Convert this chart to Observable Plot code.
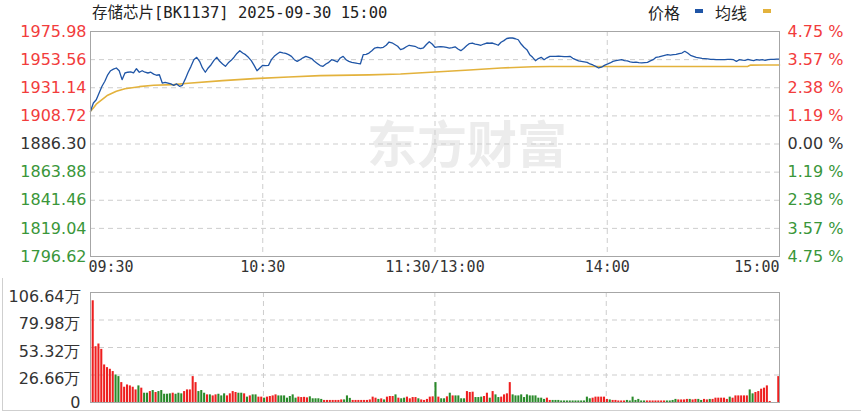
<!DOCTYPE html>
<html><head><meta charset="utf-8">
<script src="https://cdn.jsdelivr.net/npm/d3@7"></script>
<script src="https://cdn.jsdelivr.net/npm/@observablehq/plot@0.6"></script>
<style>
body{margin:0;background:#fff;}
#wrap{position:relative;width:861px;height:413px;overflow:hidden;background:#fff;}
#price,#vol{position:absolute;left:0;}
#price{top:0px}
#vol{top:280px}
.t{position:absolute;top:0;line-height:26px;white-space:pre;color:#222;}
.title{left:92px;font:15.5px "DejaVu Sans Mono","Noto Sans CJK SC",monospace;}
.lg{font:16px "Noto Sans CJK SC",sans-serif;}
.sw{position:absolute;top:9px;width:8px;height:4px;}
.box{position:absolute;left:2px;top:278px;width:880px;height:132px;border-left:1px solid #cfcfcf;border-bottom:1px solid #cfcfcf;}
</style></head>
<body>
<div id="wrap">
  <div class="box"></div>
  <div id="price"></div>
  <div id="vol"></div>
  <div class="t title" id="title"></div>
  <div class="t lg" style="left:648px" id="lg1"></div>
  <div class="sw" style="left:695px;background:#1f55a6"></div>
  <div class="t lg" style="left:715px" id="lg2"></div>
  <div class="sw" style="left:763px;background:#e3b23c"></div>
</div>
<script>
const titleText = "存储芯片[BK1137] 2025-09-30 15:00";
const legendNames = ["价格", "均线"];
const watermark = "东方财富";

const prevClose = 1886.30;
const priceTicks = [1975.98,1953.56,1931.14,1908.72,1886.30,1863.88,1841.46,1819.04,1796.62];
const pctLabels = ["4.75 %","3.57 %","2.38 %","1.19 %","0.00 %","1.19 %","2.38 %","3.57 %","4.75 %"];
const timeTicks = [0,60,120,180,240];
const timeLabels = ["09:30","10:30","11:30/13:00","14:00","15:00"];
const volTicks = [106.64,79.98,53.32,26.66,0];
const volLabels = ["106.64万","79.98万","53.32万","26.66万","0"];

// price per trading minute (0 = 09:30, 240 = 15:00)
const priceValues = [
1912.4,1919.0,1921.6,1927.0,1932.3,1936.3,1941.5,1944.7,1946.0,1946.9,
1944.7,1937.6,1942.9,1943.5,1943.8,1943.0,1946.3,1943.5,1944.7,1943.5,
1942.9,1943.5,1942.0,1941.1,1941.5,1934.9,1935.5,1934.9,1934.2,1933.1,
1934.2,1932.3,1933.1,1938.0,1943.5,1948.2,1953.5,1955.4,1952.2,1946.9,
1943.5,1946.9,1949.5,1953.0,1955.4,1952.2,1950.1,1948.2,1951.0,1953.0,
1955.5,1958.5,1960.7,1958.8,1957.5,1955.4,1952.7,1949.0,1944.7,1946.9,
1949.0,1948.8,1949.0,1953.5,1956.2,1958.0,1959.6,1959.0,1958.5,1957.5,
1956.2,1953.5,1952.2,1953.5,1955.0,1956.2,1955.4,1954.4,1952.2,1950.5,
1948.8,1948.2,1950.1,1951.4,1953.5,1952.7,1951.8,1954.9,1956.2,1953.5,
1952.2,1951.4,1951.0,1950.5,1950.1,1957.5,1957.8,1958.8,1960.7,1962.8,
1963.4,1963.0,1963.4,1965.0,1967.6,1967.0,1965.6,1964.2,1961.5,1962.3,
1963.8,1965.0,1964.6,1964.2,1963.0,1962.3,1963.0,1965.6,1967.8,1966.0,
1963.4,1963.8,1964.0,1963.8,1963.4,1962.8,1963.2,1963.8,1962.0,1960.7,
1962.5,1964.6,1966.4,1966.8,1966.0,1965.6,1965.0,1966.0,1966.8,1966.6,
1966.8,1966.0,1965.0,1967.4,1968.7,1970.4,1970.8,1970.8,1970.2,1969.4,
1966.0,1963.4,1961.5,1957.5,1955.4,1952.7,1954.4,1955.4,1953.5,1955.0,
1956.2,1956.2,1956.2,1956.4,1956.2,1956.0,1956.0,1956.2,1954.6,1953.5,
1952.5,1952.2,1951.8,1951.4,1950.1,1949.3,1948.2,1946.9,1947.5,1949.0,
1950.0,1950.9,1952.2,1952.7,1953.2,1953.5,1952.7,1952.5,1951.8,1951.4,
1951.6,1951.2,1951.0,1951.2,1951.4,1952.5,1953.5,1955.4,1955.8,1956.4,
1957.0,1957.5,1957.2,1957.5,1957.8,1958.4,1958.8,1960.2,1958.8,1957.0,
1956.2,1955.4,1955.0,1954.6,1954.4,1954.2,1953.8,1953.8,1953.5,1953.5,
1953.5,1953.5,1953.8,1953.8,1953.5,1952.2,1953.5,1953.2,1953.0,1953.8,
1953.2,1952.8,1953.5,1953.2,1953.5,1953.0,1953.5,1953.8,1953.8,1954.0,
1954.0];

const avgMinutes = [0,1,2,4,6,9,12,17,22,29,34,46,57,69,80,97,108,120,132,143,154,160,229,230,240];
const avgValues = [1912.4,1915.0,1918.0,1921.6,1925.2,1928.3,1930.4,1932.0,1933.1,1933.6,1934.7,1936.8,1938.4,1939.7,1940.8,1941.4,1942.1,1943.7,1945.3,1946.9,1947.9,1948.1,1948.2,1949.2,1949.3];

// volume (万) per minute and direction (1 = up/red, 0 = down/green)
const volValues = [
98.6,54.1,56.7,51.5,36.4,33.8,32.2,30.0,26.7,25.1,
19.3,14.8,17.0,16.1,14.8,12.2,16.1,13.9,9.0,9.0,
10.6,11.6,9.7,10.6,11.6,8.0,8.0,8.4,9.0,8.0,
9.0,8.4,10.6,12.2,12.2,25.1,19.3,10.6,11.6,9.0,
7.4,7.4,6.4,7.4,8.0,6.4,8.4,6.4,8.4,10.6,
9.7,9.0,9.0,8.4,5.2,6.4,7.4,7.4,5.2,5.2,
4.2,5.2,5.8,6.4,7.4,6.4,6.4,6.4,4.2,5.8,
7.4,4.2,5.2,4.8,5.0,4.5,5.5,3.6,3.6,3.6,
3.0,2.0,2.0,2.0,2.0,2.0,2.0,2.5,2.5,6.4,
4.0,2.0,2.0,2.0,2.0,2.0,2.0,2.5,5.2,4.2,
3.0,3.5,2.5,5.2,5.8,5.8,7.4,4.2,3.6,4.2,
5.2,3.6,4.8,4.8,3.6,2.5,2.0,3.0,5.2,5.5,
19.3,5.2,3.6,3.6,5.5,9.0,6.4,6.4,6.4,3.6,
3.6,10.6,9.7,10.0,4.8,4.8,5.2,5.8,9.0,4.2,
10.6,7.4,4.8,5.2,7.4,8.4,19.3,7.4,6.4,6.4,
7.4,4.8,7.4,6.4,6.4,6.4,4.2,4.2,3.0,4.2,
2.0,2.0,2.0,2.0,1.5,1.5,1.5,1.5,1.5,1.5,
1.5,1.5,1.5,5.2,3.6,4.2,5.2,5.2,5.2,5.2,
3.0,2.5,2.0,2.0,1.5,1.5,1.5,2.0,1.5,5.2,
2.0,3.0,1.5,1.5,1.5,1.5,1.5,1.5,1.5,1.5,
1.5,1.5,1.5,2.0,3.0,2.5,2.5,2.5,3.0,3.0,
2.5,3.0,3.0,2.0,3.0,2.5,3.0,3.0,4.2,4.2,
4.2,4.2,3.0,5.2,4.2,6.4,6.4,6.4,6.4,6.4,
12.2,8.4,9.7,10.6,12.9,13.9,16.1,1.0,0,0,
25.1];
const volUp = [
1,1,1,1,1,1,1,1,0,0,
1,1,1,1,1,1,0,1,0,0,
1,0,1,0,0,0,0,0,1,0,
0,0,1,1,1,1,1,0,0,0,
1,0,1,1,0,0,0,1,1,1,
1,0,0,1,0,1,0,0,1,1,
0,1,1,1,1,0,0,0,0,0,
0,0,1,1,1,1,0,0,0,0,
0,1,1,1,1,1,1,1,0,0,
0,1,1,1,1,1,1,1,1,1,
0,1,0,1,1,1,0,1,0,0,
1,1,1,1,0,1,1,1,1,1,
0,1,0,0,1,0,1,0,0,0,
0,1,1,1,0,0,0,1,1,0,
1,0,0,1,1,1,1,0,0,0,
0,0,0,0,0,0,0,0,0,1,
1,0,0,0,0,0,0,0,0,0,
0,0,0,0,0,1,1,1,1,1,
1,0,1,1,1,1,1,0,0,0,
0,0,0,0,1,1,1,1,1,1,
1,0,0,0,0,1,1,1,1,0,
1,1,0,0,1,1,0,1,1,1,
1,1,1,0,1,1,1,1,1,1,
0,0,1,1,1,1,1,1,1,1,
1];

const RED = "#f23c3c", GREEN = "#3a963a", DARK = "#333333";
const BLUE = "#1f55a6", GOLD = "#e3b23c";
const GRID = "#cdcdcd", FRAME = "#a6a6a6";

document.getElementById("title").textContent = titleText;
document.getElementById("lg1").textContent = legendNames[0];
document.getElementById("lg2").textContent = legendNames[1];

const priceData = priceValues.map((p, m) => ({m, p}));
const avgData = avgMinutes.map((m, i) => ({m, p: avgValues[i]}));
const tickData = priceTicks.map((v, i) => ({v, label: v.toFixed(2), pct: pctLabels[i],
  c: v > prevClose ? RED : (v < prevClose ? GREEN : DARK)}));
const timeData = timeTicks.map((m, i) => ({m, label: timeLabels[i]}));
const timeFont = {fontFamily: "DejaVu Sans Mono", fontSize: 15, fill: DARK, frameAnchor: "bottom", dy: 15};

const pricePlot = Plot.plot({
  width: 861, height: 280,
  marginLeft: 90, marginRight: 82, marginTop: 31, marginBottom: 24,
  x: {domain: [0, 240], axis: null},
  y: {domain: [1796.62, 1975.98], axis: null},
  color: {type: "identity"},
  style: {fontFamily: "DejaVu Sans", fontSize: "16px", background: "transparent", overflow: "visible"},
  marks: [
    Plot.text([watermark], {text: d => d, frameAnchor: "middle", dx: 32, dy: 3, fontSize: 50,
      fontWeight: "bold", fill: "#ececec", fontFamily: "Noto Sans CJK SC"}),
    Plot.ruleY(priceTicks.slice(1, -1), {stroke: GRID, strokeDasharray: "5,4"}),
    Plot.ruleX(timeTicks.slice(1, -1), {stroke: GRID, strokeDasharray: "5,4"}),
    Plot.line(avgData, {x: "m", y: "p", stroke: GOLD, strokeWidth: 1.6}),
    Plot.line(priceData, {x: "m", y: "p", stroke: BLUE, strokeWidth: 1.3}),
    Plot.frame({stroke: FRAME}),
    Plot.text(tickData, {y: "v", text: "label", frameAnchor: "left", textAnchor: "end", dx: -4, fill: "c"}),
    Plot.text(tickData, {y: "v", text: "pct", frameAnchor: "right", textAnchor: "start", dx: 8, fill: "c"}),
    Plot.text(timeData.slice(0, 1), {x: "m", text: "label", textAnchor: "start", ...timeFont, dx: -2}),
    Plot.text(timeData.slice(1, -1), {x: "m", text: "label", textAnchor: "middle", ...timeFont}),
    Plot.text(timeData.slice(-1), {x: "m", text: "label", textAnchor: "end", ...timeFont})
  ]
});
document.getElementById("price").appendChild(pricePlot);

const volData = volValues.map((v, i) => ({i, v, c: volUp[i] ? "#ee1f1f" : "#2a8a2a"}));
const volTickData = volTicks.map((v, i) => ({v, label: volLabels[i]}));
const volPlot = Plot.plot({
  width: 861, height: 133,
  marginLeft: 90, marginRight: 82, marginTop: 12, marginBottom: 11,
  x: {domain: [-0.95, 240.25], axis: null},
  y: {domain: [0, 106.64], axis: null},
  color: {type: "identity"},
  style: {fontFamily: "DejaVu Sans", fontSize: "16px", background: "transparent", overflow: "visible"},
  marks: [
    Plot.ruleY(volTicks.slice(1, -1), {stroke: GRID, strokeDasharray: "5,4"}),
    Plot.ruleX(timeTicks.slice(1, -1).map(m => m - 0.4), {stroke: GRID, strokeDasharray: "5,4"}),
    Plot.rectY(volData, {x1: d => d.i - 0.36, x2: d => d.i + 0.36, y: "v", fill: "c"}),
    Plot.frame({stroke: FRAME}),
    Plot.text(volTickData.slice(0, -1), {y: "v", text: "label", frameAnchor: "left", textAnchor: "end", dx: -10, dy: 4, fill: DARK}),
    Plot.text(volTickData.slice(-1), {y: "v", text: "label", frameAnchor: "left", textAnchor: "end", dx: -10, dy: 0, fill: DARK})
  ]
});
document.getElementById("vol").appendChild(volPlot);
</script>
</body></html>
